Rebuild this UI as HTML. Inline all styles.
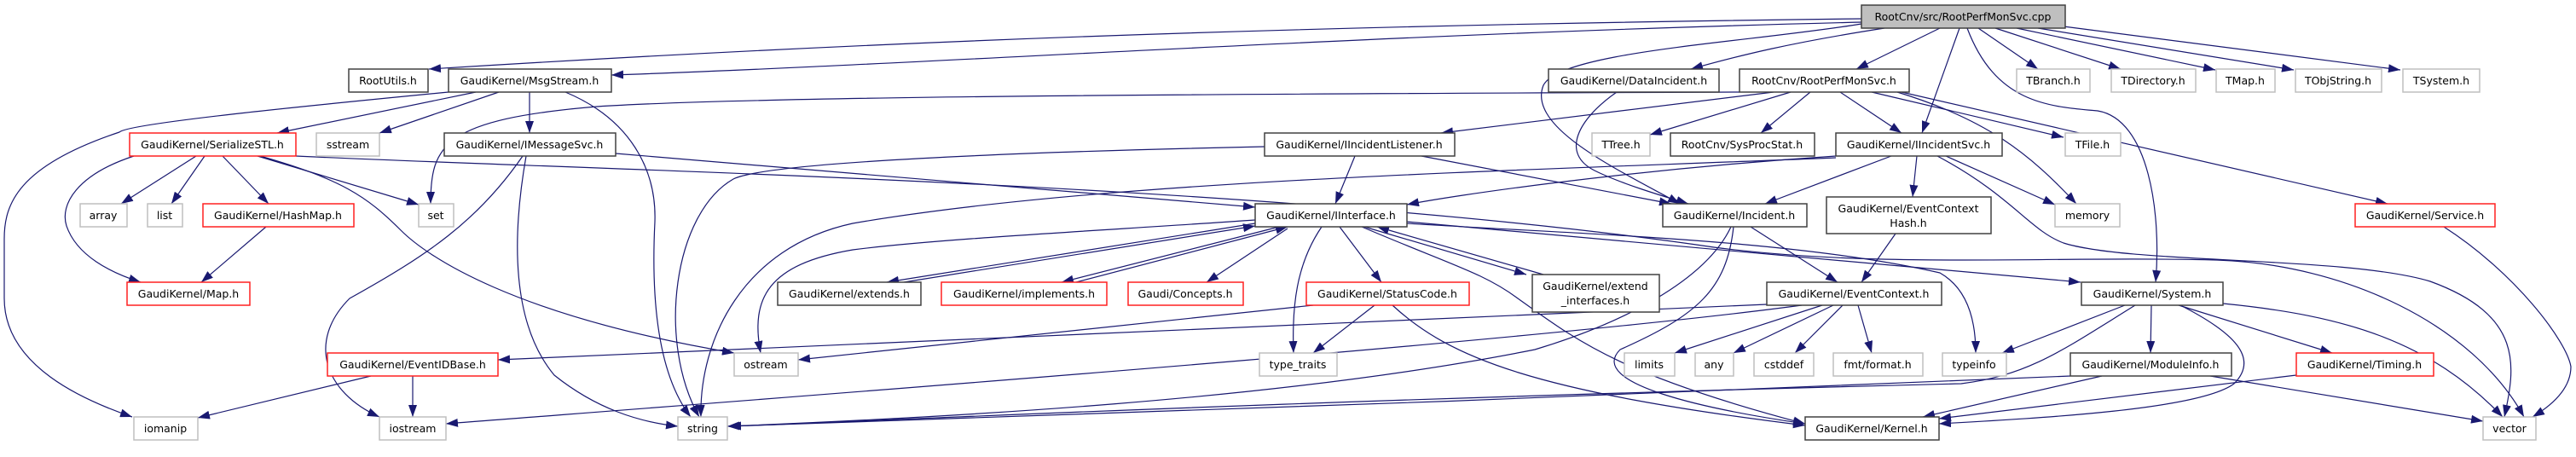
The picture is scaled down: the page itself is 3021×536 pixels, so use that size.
<!DOCTYPE html>
<html><head><meta charset="utf-8"><style>
html,body{margin:0;padding:0;background:#fff;}
svg{display:block;}
text{font-family:"DejaVu Sans","Liberation Sans",sans-serif;font-size:12.5px;fill:#000;text-anchor:middle;}
.e{fill:none;stroke:#191970;stroke-width:1.2;}
.b{fill:#fff;stroke:#404040;stroke-width:1.5;}
.g{fill:#fff;stroke:#bfbfbf;stroke-width:1.5;}
.r{fill:#fff;stroke:#ff2020;stroke-width:1.5;}
.t{fill:#bfbfbf;stroke:#404040;stroke-width:1.5;}
</style></head><body>
<svg width="3021" height="536" viewBox="0 0 3021 536" xmlns="http://www.w3.org/2000/svg">
<defs><marker id="a" markerUnits="userSpaceOnUse" markerWidth="14" markerHeight="10" refX="14" refY="5" orient="auto"><path d="M0,0 L14,5 L0,10 z" fill="#191970"/></marker></defs>
<g class="e" marker-end="url(#a)">
<path d="M2183,22 C1500,30 1000,50 503,81"/>
<path d="M2183,26 C1600,40 1100,75 717,88"/>
<path d="M2210,33 C2100,50 2040,65 1983,81"/>
<path d="M2275,33 L2177,81"/>
<path d="M2298,33 L2254,156"/>
<path d="M2320,33 L2390,81"/>
<path d="M2340,33 L2487,81"/>
<path d="M2365,33 L2598,82"/>
<path d="M2390,33 L2690,82"/>
<path d="M2420,31 L2815,82"/>
<path d="M2307,33 C2340,120 2400,125 2460,130 C2520,140 2535,250 2528,331"/>
<path d="M2183,28 C2050,50 1830,60 1810,100 C1790,150 1900,200 1970,239"/>
<path d="M2040,108 C1500,110 900,112 700,125 C520,140 505,170 505,239"/>
<path d="M2080,108 L1690,156"/>
<path d="M2123,108 L2065,156"/>
<path d="M2158,108 L2230,156"/>
<path d="M2100,108 L1935,158"/>
<path d="M2195,108 L2420,161"/>
<path d="M2225,108 C2330,140 2380,180 2435,239"/>
<path d="M2230,108 L2800,239"/>
<path d="M526,108 C350,125 150,145 140,155 C20,195 5,240 5,280 L5,350 C5,430 100,470 155,489"/>
<path d="M558,108 L325,156"/>
<path d="M585,108 L445,156"/>
<path d="M621,108 L621,156"/>
<path d="M663,108 C740,140 770,200 768,260 C762,380 780,450 810,489"/>
<path d="M157,183 C90,205 70,240 78,265 C90,300 130,320 165,331"/>
<path d="M230,183 L142,239"/>
<path d="M240,183 L201,239"/>
<path d="M261,183 L315,239"/>
<path d="M302,183 L491,240"/>
<path d="M305,183 C400,210 430,230 470,270 C500,300 600,370 861,414"/>
<path d="M347,183 C700,200 1500,215 2010,290 C2200,315 2400,300 2600,305 C2750,310 2900,380 2960,489"/>
<path d="M722,180 L1472,243"/>
<path d="M613,183 C560,260 500,300 410,350 C360,400 380,460 445,489"/>
<path d="M617,183 C600,280 600,380 650,440 C700,480 750,495 795,500"/>
<path d="M1589,183 L1566,239"/>
<path d="M1667,183 L1960,239"/>
<path d="M1483,172 C1200,178 900,190 860,210 C790,250 770,400 820,489"/>
<path d="M2153,183 C1900,200 1700,230 1650,240"/>
<path d="M2218,183 L2070,239"/>
<path d="M2248,183 L2243,231"/>
<path d="M2282,183 L2410,240"/>
<path d="M2272,183 C2360,230 2380,270 2420,285 C2500,310 2750,300 2850,330 C2960,370 2950,430 2937,489"/>
<path d="M2153,185 C1800,200 1300,210 1000,262 C870,290 820,400 822,489"/>
<path d="M1472,262 L1040,331"/>
<path d="M1060,331 L1472,265"/>
<path d="M1500,266 L1245,331"/>
<path d="M1262,331 L1510,266"/>
<path d="M1510,268 L1415,331"/>
<path d="M1472,258 C1300,270 1100,280 1000,293 C900,310 880,350 892,414"/>
<path d="M1550,266 C1520,310 1515,360 1517,414"/>
<path d="M1571,266 L1620,331"/>
<path d="M1600,266 L1790,322"/>
<path d="M1810,322 L1615,266"/>
<path d="M1597,266 C1700,310 1740,320 1780,350 C1850,400 1900,440 2117,497"/>
<path d="M1650,260 L2440,331"/>
<path d="M1650,262 C1850,275 2100,280 2275,320 C2310,340 2317,380 2317,414"/>
<path d="M2053,266 L2155,331"/>
<path d="M2030,266 C2000,330 1900,380 1800,410 C1500,470 1100,490 853,500"/>
<path d="M2033,266 C2025,340 1990,370 1900,410 C1860,450 2000,480 2117,497"/>
<path d="M2223,274 L2183,331"/>
<path d="M2072,357 L584,422"/>
<path d="M2113,358 C1800,400 1000,460 523,497"/>
<path d="M2137,358 L1964,414"/>
<path d="M2150,358 L2033,414"/>
<path d="M2161,358 L2105,414"/>
<path d="M2179,358 L2195,414"/>
<path d="M2492,358 L2348,414"/>
<path d="M2504,358 C2420,410 2380,440 2300,450 C1500,470 1000,495 855,500"/>
<path d="M2523,358 L2522,414"/>
<path d="M2555,358 L2735,414"/>
<path d="M2557,358 C2620,390 2650,420 2620,450 C2580,480 2400,490 2274,497"/>
<path d="M2607,356 C2750,370 2850,400 2935,489"/>
<path d="M2465,441 L2255,489"/>
<path d="M2428,441 C2000,460 1200,490 855,500"/>
<path d="M2592,441 L2912,494"/>
<path d="M2693,440 L2274,491"/>
<path d="M2866,266 C2950,320 3010,400 3015,430 C3015,460 2985,480 2970,489"/>
<path d="M1612,358 L1540,414"/>
<path d="M1540,358 L936,422"/>
<path d="M1633,358 C1700,420 1800,460 2117,499"/>
<path d="M312,266 L236,331"/>
<path d="M435,441 L232,490"/>
<path d="M484,441 L484,489"/>
<path d="M1896,108 C1850,140 1830,180 1870,200 C1900,215 1950,230 1980,239"/>
</g>
<!-- nodes -->
<rect class="t" x="2183" y="6" width="239" height="27"/><text x="2302" y="24">RootCnv/src/RootPerfMonSvc.cpp</text>

<rect class="b" x="409" y="81" width="93" height="27"/><text x="455" y="99">RootUtils.h</text>
<rect class="b" x="526" y="81" width="191" height="27"/><text x="621" y="99">GaudiKernel/MsgStream.h</text>
<rect class="b" x="1816" y="81" width="200" height="27"/><text x="1916" y="99">GaudiKernel/DataIncident.h</text>
<rect class="b" x="2040" y="81" width="199" height="27"/><text x="2139" y="99">RootCnv/RootPerfMonSvc.h</text>
<rect class="g" x="2365" y="81" width="86" height="27"/><text x="2408" y="99">TBranch.h</text>
<rect class="g" x="2476" y="81" width="99" height="27"/><text x="2525" y="99">TDirectory.h</text>
<rect class="g" x="2599" y="81" width="69" height="27"/><text x="2633" y="99">TMap.h</text>
<rect class="g" x="2692" y="81" width="101" height="27"/><text x="2742" y="99">TObjString.h</text>
<rect class="g" x="2818" y="81" width="90" height="27"/><text x="2863" y="99">TSystem.h</text>

<rect class="r" x="152" y="156" width="195" height="27"/><text x="249" y="174">GaudiKernel/SerializeSTL.h</text>
<rect class="g" x="371" y="156" width="74" height="27"/><text x="408" y="174">sstream</text>
<rect class="b" x="521" y="156" width="201" height="27"/><text x="621" y="174">GaudiKernel/IMessageSvc.h</text>
<rect class="b" x="1483" y="156" width="223" height="27"/><text x="1594" y="174">GaudiKernel/IIncidentListener.h</text>
<rect class="g" x="1867" y="156" width="68" height="27"/><text x="1901" y="174">TTree.h</text>
<rect class="b" x="1959" y="156" width="169" height="27"/><text x="2043" y="174">RootCnv/SysProcStat.h</text>
<rect class="b" x="2153" y="156" width="195" height="27"/><text x="2250" y="174">GaudiKernel/IIncidentSvc.h</text>
<rect class="g" x="2422" y="156" width="65" height="27"/><text x="2454" y="174">TFile.h</text>

<rect class="g" x="94" y="239" width="55" height="27"/><text x="121" y="257">array</text>
<rect class="g" x="173" y="239" width="41" height="27"/><text x="193" y="257">list</text>
<rect class="r" x="238" y="239" width="177" height="27"/><text x="326" y="257">GaudiKernel/HashMap.h</text>
<rect class="g" x="491" y="239" width="41" height="27"/><text x="511" y="257">set</text>
<rect class="b" x="1472" y="239" width="178" height="27"/><text x="1561" y="257">GaudiKernel/IInterface.h</text>
<rect class="b" x="1950" y="239" width="169" height="27"/><text x="2034" y="257">GaudiKernel/Incident.h</text>
<rect class="b" x="2142" y="231" width="193" height="43"/><text x="2238" y="249">GaudiKernel/EventContext</text><text x="2238" y="266">Hash.h</text>
<rect class="g" x="2410" y="239" width="76" height="27"/><text x="2448" y="257">memory</text>
<rect class="r" x="2762" y="239" width="164" height="27"/><text x="2844" y="257">GaudiKernel/Service.h</text>

<rect class="r" x="149" y="331" width="144" height="27"/><text x="221" y="349">GaudiKernel/Map.h</text>
<rect class="b" x="912" y="331" width="168" height="27"/><text x="996" y="349">GaudiKernel/extends.h</text>
<rect class="r" x="1104" y="331" width="194" height="27"/><text x="1201" y="349">GaudiKernel/implements.h</text>
<rect class="r" x="1323" y="331" width="135" height="27"/><text x="1390" y="349">Gaudi/Concepts.h</text>
<rect class="r" x="1532" y="331" width="191" height="27"/><text x="1627" y="349">GaudiKernel/StatusCode.h</text>
<rect class="b" x="1797" y="322" width="149" height="44"/><text x="1871" y="340">GaudiKernel/extend</text><text x="1871" y="357">_interfaces.h</text>
<rect class="b" x="2072" y="331" width="205" height="27"/><text x="2174" y="349">GaudiKernel/EventContext.h</text>
<rect class="b" x="2441" y="331" width="166" height="27"/><text x="2524" y="349">GaudiKernel/System.h</text>

<rect class="r" x="384" y="414" width="200" height="27"/><text x="484" y="432">GaudiKernel/EventIDBase.h</text>
<rect class="g" x="861" y="414" width="75" height="27"/><text x="898" y="432">ostream</text>
<rect class="g" x="1477" y="414" width="91" height="27"/><text x="1522" y="432">type_traits</text>
<rect class="g" x="1905" y="414" width="59" height="27"/><text x="1934" y="432">limits</text>
<rect class="g" x="1988" y="414" width="45" height="27"/><text x="2010" y="432">any</text>
<rect class="g" x="2057" y="414" width="70" height="27"/><text x="2092" y="432">cstddef</text>
<rect class="g" x="2150" y="414" width="105" height="27"/><text x="2202" y="432">fmt/format.h</text>
<rect class="g" x="2278" y="414" width="75" height="27"/><text x="2315" y="432">typeinfo</text>
<rect class="b" x="2428" y="414" width="189" height="27"/><text x="2522" y="432">GaudiKernel/ModuleInfo.h</text>
<rect class="r" x="2693" y="414" width="161" height="27"/><text x="2773" y="432">GaudiKernel/Timing.h</text>

<rect class="g" x="157" y="489" width="75" height="27"/><text x="194" y="507">iomanip</text>
<rect class="g" x="445" y="489" width="78" height="27"/><text x="484" y="507">iostream</text>
<rect class="g" x="795" y="489" width="58" height="27"/><text x="824" y="507">string</text>
<rect class="b" x="2117" y="489" width="157" height="27"/><text x="2195" y="507">GaudiKernel/Kernel.h</text>
<rect class="g" x="2912" y="489" width="62" height="27"/><text x="2943" y="507">vector</text>
</svg>
</body></html>
